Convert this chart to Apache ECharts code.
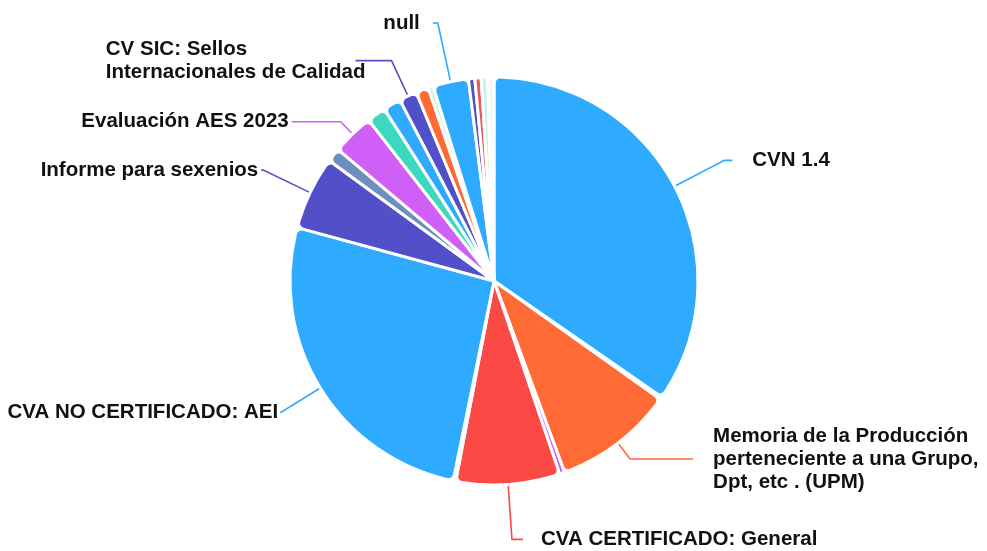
<!DOCTYPE html>
<html>
<head>
<meta charset="utf-8">
<script src="https://cdn.jsdelivr.net/npm/echarts@6/dist/echarts.min.js"></script>
<style>
html,body{margin:0;padding:0;background:#fff;}
#chart{width:987px;height:551px;}
</style>
</head>
<body>
<div id="chart"></div>
<script>
// Slice names (empty = unlabelled slice in the reference)
const names = [
  'CVN 1.4', '',
  'Memoria de la Producción perteneciente a una Grupo, Dpt, etc . (UPM)', '',
  'CVA CERTIFICADO: General', '',
  'CVA NO CERTIFICADO: AEI',
  'Informe para sexenios', '',
  'Evaluación AES 2023', '', '',
  'CV SIC: Sellos Internacionales de Calidad', '', '',
  'null', '', '', '', ''
];
// Slice values (share of total, %)
const values = [
  34.5, 0.2,
  9.5, 0.4,
  8.2, 0.2,
  25.9,
  5.8, 1.1,
  3.3, 1.5, 1.4,
  1.4, 1.0, 0.4,
  2.8, 0.5, 0.5, 0.5, 0.5
];
// Slice colours (style)
const colors = [
  '#2eaaff', '#5050c8',
  '#ff6a35', '#cc5cf6',
  '#fb4a45', '#e9c79d',
  '#2eaaff',
  '#5150c9', '#6d8fbf',
  '#cf5ff6', '#3cd8bf', '#2eaaff',
  '#5150c9', '#ff6a35', '#c8f1e8',
  '#2eaaff', '#5150c9', '#e85a5a', '#cdf1ea', '#f4f7f7'
];
// Label line settings per labelled slice (style)
const labelCfg = {
  0:  {length: 56, length2: 8,  dist: 20},
  2:  {length: 20, length2: 63, dist: 20, width: 285},
  4:  {length: 55, length2: 11, dist: 18},
  6:  {length: 46, length2: 1,  dist: 2},
  7:  {length: 52, length2: 2,  dist: 3},
  9:  {length: 17, length2: 49, dist: 3},
  12: {length: 39, length2: 36, dist: -10, wrapLeft: 270},
  15: {length: 60, length2: 5,  dist: 13}
};

const FONT = {fontSize: 20.5, fontWeight: 'bold', fontFamily: '"Liberation Sans", Arial, sans-serif', color: '#111', lineHeight: 23};

// word wrap helper (measures with the label font)
const mctx = document.createElement('canvas').getContext('2d');
mctx.font = 'bold 20.5px "Liberation Sans", Arial, sans-serif';
function wrapWords(text, maxW) {
  const words = text.split(' ');
  const lines = [];
  let cur = '';
  words.forEach(w => {
    const test = cur ? cur + ' ' + w : w;
    if (cur && mctx.measureText(test).width > maxW) { lines.push(cur); cur = w; }
    else cur = test;
  });
  if (cur) lines.push(cur);
  return lines;
}

const data = values.map((v, i) => {
  const item = {name: names[i], value: v, itemStyle: {color: colors[i]}};
  const c = labelCfg[i];
  if (c) {
    item.label = {show: true, distanceToLabelLine: c.dist};
    if (c.width) { item.label.width = c.width; item.label.overflow = 'break'; }
    if (c.wrapLeft) {
      const maxW = c.wrapLeft;
      item.label.formatter = p => wrapWords(p.name, maxW).map(l => '{a|' + l + '}').join('\n');
      item.label.rich = {a: Object.assign({align: 'left'}, FONT)};
    }
    item.labelLine = {show: true, length: c.length, length2: c.length2};
  } else {
    item.label = {show: false};
    item.labelLine = {show: false};
  }
  return item;
});

const chart = echarts.init(document.getElementById('chart'), null, {renderer: 'canvas'});
chart.setOption({
  animation: false,
  backgroundColor: '#fff',
  series: [{
    type: 'pie',
    center: [494, 281],
    radius: 204,
    startAngle: 90,
    clockwise: true,
    avoidLabelOverlap: false,
    itemStyle: {borderColor: '#fff', borderWidth: 3, borderRadius: 6},
    label: Object.assign({show: true, position: 'outside'}, FONT),
    labelLine: {show: true, smooth: false, lineStyle: {width: 1.6}},
    emphasis: {disabled: true},
    data: data
  }]
});
</script>
</body>
</html>
